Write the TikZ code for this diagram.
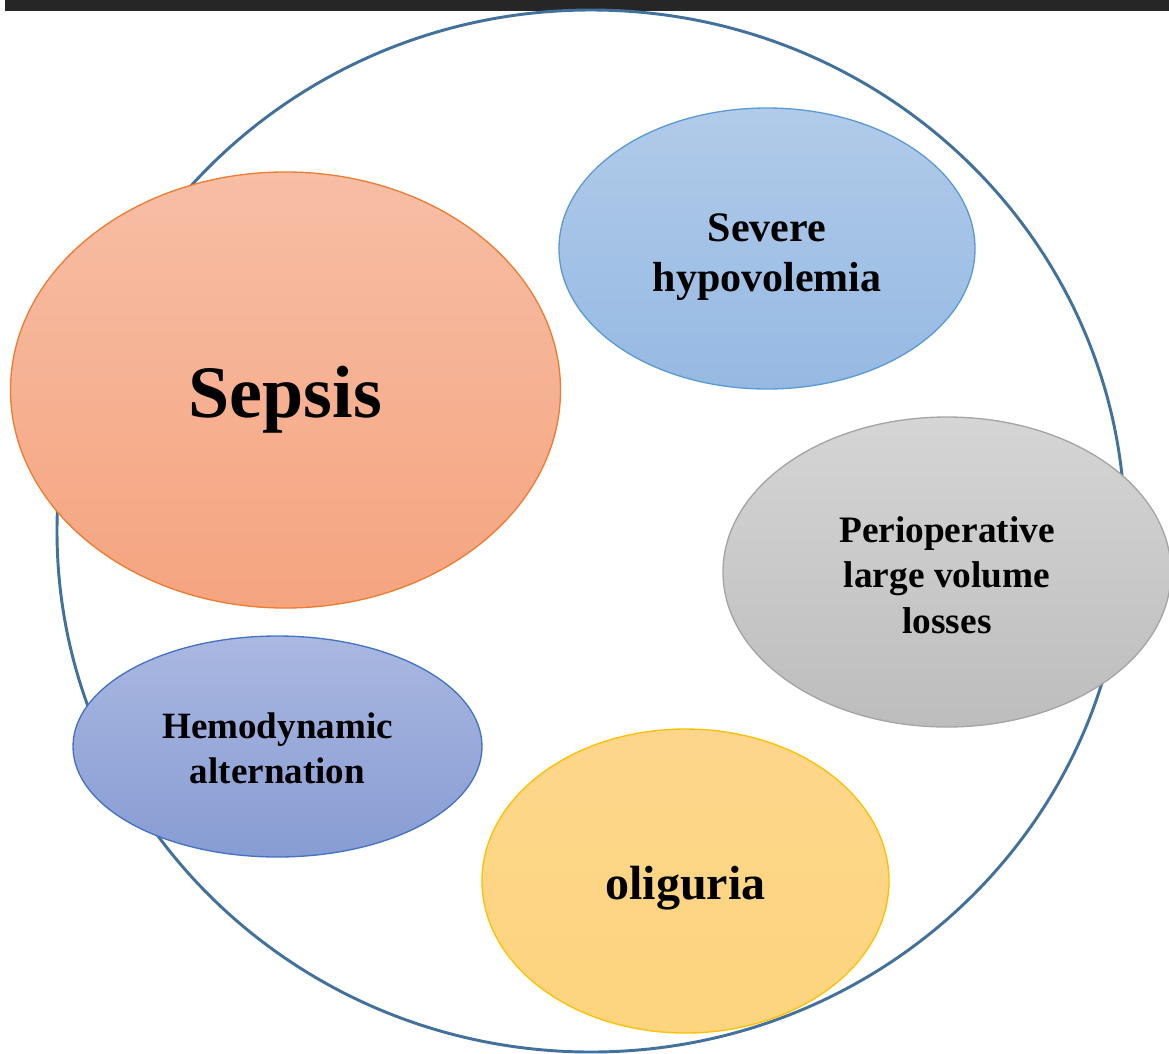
\documentclass[tikz,border=0pt]{standalone}
\usepackage{fontspec}
\setmainfont{Liberation Serif}
\usetikzlibrary{shapes.geometric}
\definecolor{barc}{HTML}{262626}
\definecolor{ringc}{HTML}{41719C}
\definecolor{sepT}{HTML}{F7BEA5}
\definecolor{sepB}{HTML}{F5A47F}
\definecolor{sepL}{HTML}{ED7D31}
\definecolor{hypT}{HTML}{B1CBE9}
\definecolor{hypB}{HTML}{96B9E3}
\definecolor{hypL}{HTML}{5B9BD5}
\definecolor{perT}{HTML}{D5D5D5}
\definecolor{perB}{HTML}{BDBDBD}
\definecolor{perL}{HTML}{A5A5A5}
\definecolor{hemT}{HTML}{AAB8E1}
\definecolor{hemB}{HTML}{879CD3}
\definecolor{hemL}{HTML}{4472C4}
\definecolor{oliT}{HTML}{FDD68C}
\definecolor{oliB}{HTML}{FDD57E}
\definecolor{oliL}{HTML}{FFC000}
\tikzset{
  blob/.style={ellipse, inner sep=0pt, line width=1pt},
  txt/.style={inner sep=0pt, align=center},
}
\begin{document}
\begin{tikzpicture}[x=0.75pt, y=-0.75pt]
\useasboundingbox (0,0) rectangle (1169,1053);
\fill[white] (0,0) rectangle (1169,1053);
\fill[barc] (5,0) rectangle (1169,11);
\node[draw=ringc, line width=2.2pt, ellipse, minimum width=1068*0.75pt, minimum height=1042*0.75pt, inner sep=0pt] (ring) at (591,531) {};
\node[blob, draw=sepL, top color=sepT, bottom color=sepB, minimum width=550*0.75pt, minimum height=436*0.75pt] (sepsis) at (285.5,390) {};
\node[txt, font=\bfseries\fontsize{55.5}{60}\selectfont, yshift=-7.5pt] (sepsisT) at (sepsis.center) {Sepsis};
\node[blob, draw=hypL, top color=hypT, bottom color=hypB, minimum width=416*0.75pt, minimum height=281*0.75pt] (hypo) at (767,248.5) {};
\node[txt, font=\bfseries\fontsize{31.5}{37.5}\selectfont, yshift=-6.4pt] (hypoT) at (hypo.center) {Severe\\hypovolemia};
\node[blob, draw=perL, top color=perT, bottom color=perB, minimum width=448*0.75pt, minimum height=310*0.75pt] (peri) at (947,572) {};
\node[txt, font=\bfseries\fontsize{28}{34}\selectfont, yshift=-2.2pt] (periT) at (peri.center) {Perioperative\\large volume\\losses};
\node[blob, draw=hemL, top color=hemT, bottom color=hemB, minimum width=409*0.75pt, minimum height=221*0.75pt] (hemo) at (277.5,746.5) {};
\node[txt, font=\bfseries\fontsize{27.8}{34}\selectfont, yshift=-1.5pt] (hemoT) at (hemo.center) {Hemodynamic\\alternation};
\node[blob, draw=oliL, top color=oliT, bottom color=oliB, minimum width=407*0.75pt, minimum height=304*0.75pt] (olig) at (685.5,881) {};
\node[txt, font=\bfseries\fontsize{36}{42}\selectfont, yshift=-5.2pt] (oligT) at (olig.center) {oliguria};
\end{tikzpicture}
\end{document}
